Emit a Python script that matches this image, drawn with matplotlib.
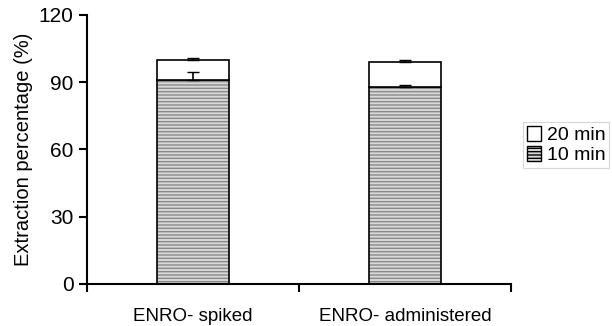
import numpy as np
import matplotlib.pyplot as plt
from matplotlib.patches import Patch

plt.rcParams['font.family'] = ['Liberation Sans', 'DejaVu Sans']

groups = ['ENRO- spiked', 'ENRO- administered']
ext_10 = [91.0, 88.0]
ext_20 = [9.0, 11.0]
err_10 = [3.5, 0.8]
err_20 = [0.8, 0.8]

fig = plt.figure(figsize=(6.12, 3.26), dpi=100)
ax = fig.add_axes([0.142, 0.129, 0.693, 0.825])

x = np.arange(len(groups)) + 0.5
w = 0.34
tot = np.array(ext_10) + np.array(ext_20)

# hatched lower part
ax.bar(x, ext_10, w, color='#d8d8d8', edgecolor='#8a8a8a', linewidth=0, hatch='-----', zorder=2)
ax.bar(x, ext_10, w, fill=False, edgecolor='black', linewidth=1.2, zorder=3)
ax.bar(x, ext_20, w, bottom=ext_10, color='white', edgecolor='black', linewidth=1.2, zorder=3)
ax.errorbar(x, ext_10, yerr=[np.zeros(2), err_10], fmt='none', ecolor='black', elinewidth=1.2, capsize=4, zorder=4)
ax.errorbar(x, tot, yerr=[np.zeros(2), err_20], fmt='none', ecolor='black', elinewidth=1.2, capsize=4, zorder=4)

ax.set_ylim(0, 120)
ax.set_xlim(0, 2)
ax.set_yticks([0, 30, 60, 90, 120])
ax.set_xticks([0, 1, 2])
ax.set_xticklabels([])
ax.set_xticks(x, minor=True)
ax.set_xticklabels(groups, minor=True, fontsize=13.5)
ax.tick_params(axis='x', which='minor', length=0, pad=17)
ax.tick_params(axis='x', which='major', length=6, width=1.5, direction='out')
ax.tick_params(axis='y', length=6, width=1.5, labelsize=15)
ax.set_ylabel('Extraction percentage (%)', fontsize=14.5, labelpad=4)
for s in ['top', 'right']:
    ax.spines[s].set_visible(False)
ax.spines['left'].set_linewidth(1.5)
ax.spines['bottom'].set_linewidth(1.5)

h20 = Patch(facecolor='white', edgecolor='black', linewidth=1)
h10 = Patch(facecolor='#d8d8d8', edgecolor='black', linewidth=1, hatch='-----')
leg = fig.legend([h20, h10], ['20 min', '10 min'], loc='upper left', bbox_to_anchor=(0.855, 0.625),
                 fontsize=14, frameon=True, fancybox=False, handlelength=0.7, handleheight=0.8,
                 handletextpad=0.3, borderpad=0.2, labelspacing=0.1, borderaxespad=0)
leg.get_frame().set_edgecolor('#cccccc')
leg.get_frame().set_linewidth(0.8)

plt.savefig('out.png', dpi=100)
